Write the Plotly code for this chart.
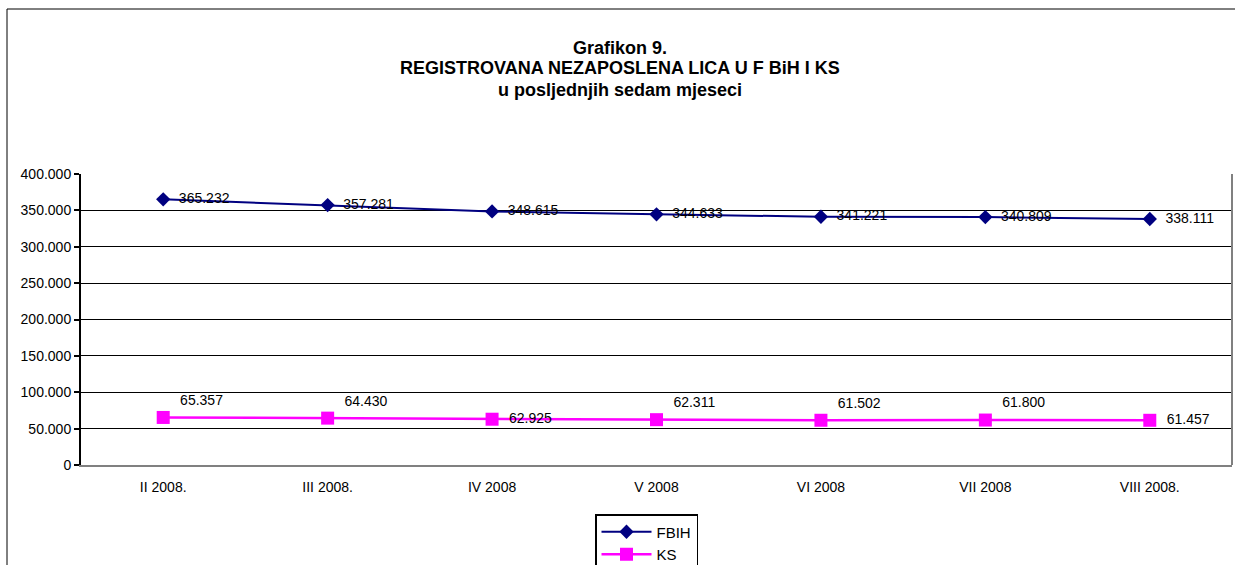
import plotly.graph_objects as go

months = ["II 2008.", "III 2008.", "IV 2008", "V 2008", "VI 2008", "VII 2008", "VIII 2008."]
fbih = [365232, 357281, 348615, 344633, 341221, 340809, 338111]
ks = [65357, 64430, 62925, 62311, 61502, 61800, 61457]

ks_pos = ["top right", "top right", "middle right", "top right",
          "top right", "top right", "middle right"]

FONT = "Liberation Sans, Arial, sans-serif"

fig = go.Figure()
fig.add_trace(go.Scatter(
    x=months, y=fbih, name="FBIH", mode="lines+markers+text",
    line=dict(color="#000080", width=2),
    marker=dict(symbol="diamond", size=11, color="#000080"),
    texttemplate="  %{y:,}", textposition="middle right",
    textfont=dict(size=14, color="black"),
))
fig.add_trace(go.Scatter(
    x=months, y=ks, name="KS", mode="lines+markers+text",
    line=dict(color="#FF00FF", width=2.5),
    marker=dict(symbol="square", size=13, color="#FF00FF"),
    texttemplate="  %{y:,}", textposition=ks_pos,
    textfont=dict(size=14, color="black"),
))

fig.update_layout(
    width=1235, height=565,
    margin=dict(l=81, r=3, t=174, b=100, autoexpand=False),
    paper_bgcolor="white", plot_bgcolor="white",
    separators=",.",
    font=dict(family=FONT, size=14, color="black"),
    showlegend=True,
    legend=dict(x=(646.5 - 81) / 1151, y=(465 - 514) / 291, xanchor="center", yanchor="top",
                bordercolor="black", borderwidth=1.5, tracegroupgap=0,
                font=dict(size=15), itemwidth=50),
)
fig.update_yaxes(
    range=[0, 400000], dtick=50000, tickformat=",d",
    showgrid=True, gridcolor="black", gridwidth=1,
    showline=True, linecolor="black", linewidth=2,
    ticks="outside", ticklen=5, tickcolor="black", tickwidth=2,
    zeroline=False, tickfont=dict(size=14),
)
fig.update_xaxes(
    range=[-0.5, 6.5], showgrid=False, showline=True,
    linecolor="#808080", linewidth=2,
    ticks="outside", ticklen=8, tickcolor="rgba(0,0,0,0)", tickfont=dict(size=14),
)

titles = ["Grafikon 9.", "REGISTROVANA NEZAPOSLENA LICA U F BiH I KS", "u posljednjih sedam mjeseci"]
for txt, py in zip(titles, [48, 68, 90]):
    fig.add_annotation(text="<b>" + txt + "</b>", xref="paper", yref="paper",
                       x=(620 - 81) / 1151, y=(465 - py) / 291, xanchor="center", yanchor="middle",
                       showarrow=False, font=dict(size=18, family=FONT))

# outer chart frame and right edge of plot area
fig.add_shape(type="rect", xref="paper", yref="paper",
              x0=(7 - 81) / 1151, x1=1.2, y0=-1, y1=(465 - 9) / 291,
              line=dict(color="black", width=1), layer="below")
fig.add_shape(type="line", xref="paper", yref="paper", x0=1, x1=1, y0=0, y1=1,
              line=dict(color="#808080", width=2))

fig.write_html("out.html", config={"displayModeBar": False},
               post_script="document.body.style.margin='0';")
